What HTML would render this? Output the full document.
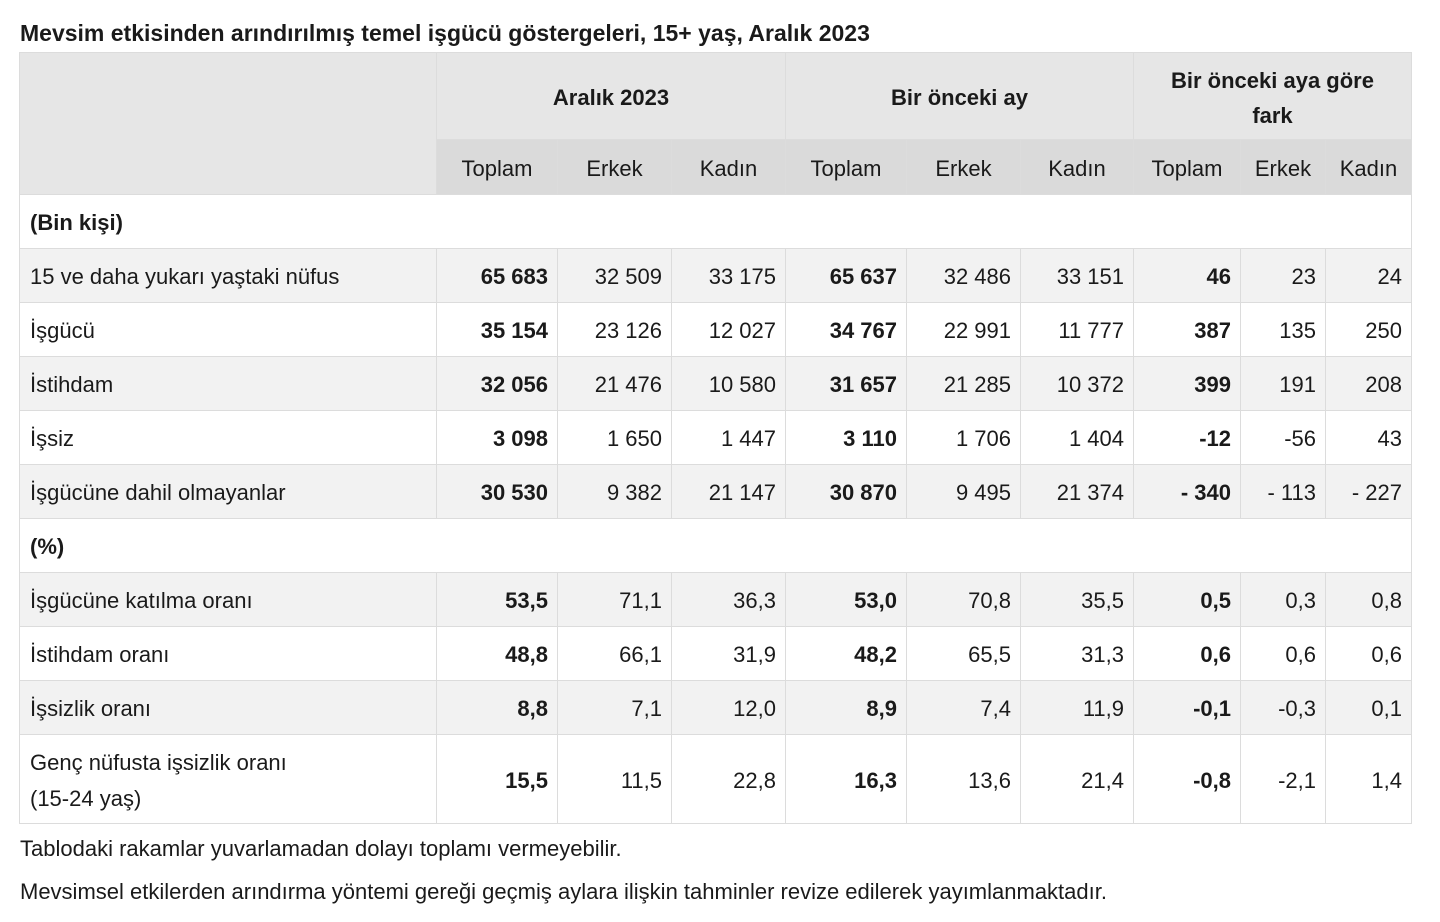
<!DOCTYPE html>
<html><head><meta charset="utf-8"><style>
body{margin:0;width:1440px;height:922px;background:#fff;font-family:"Liberation Sans",sans-serif;color:#1a1a1a;position:relative;overflow:hidden}
h1{position:absolute;left:20px;top:20px;margin:0;font-size:23px;font-weight:bold;white-space:nowrap}
table{position:absolute;left:19px;top:52px;border-collapse:collapse;table-layout:fixed;font-size:22px}
td,th{border:1px solid #dcdcdc;padding:3px 9px 0 9px;box-sizing:border-box;white-space:nowrap}
th{font-weight:normal;background:#e6e6e6}
.g th{font-weight:bold}
.s th{background:#dadada;text-align:center}
td{text-align:right}
td:first-child{text-align:left;padding-left:10px}
tr.z td{background:#f2f2f2}
b{font-weight:bold}
.note{position:absolute;left:20px;font-size:22px;white-space:nowrap}
</style></head><body>
<h1>Mevsim etkisinden arındırılmış temel işgücü göstergeleri, 15+ yaş, Aralık 2023</h1>
<table>
<colgroup><col style="width:417px"><col style="width:121px"><col style="width:114px"><col style="width:114px"><col style="width:121px"><col style="width:114px"><col style="width:113px"><col style="width:107px"><col style="width:85px"><col style="width:86px"></colgroup>
<tr class="g" style="height:87px"><th rowspan="2"></th><th colspan="3">Aralık 2023</th><th colspan="3">Bir önceki ay</th><th colspan="3" style="line-height:35px">Bir önceki aya göre<br>fark</th></tr>
<tr class="s" style="height:55px"><th>Toplam</th><th>Erkek</th><th>Kadın</th><th>Toplam</th><th>Erkek</th><th>Kadın</th><th>Toplam</th><th>Erkek</th><th>Kadın</th></tr>
<tr style="height:54px"><td colspan="10"><b>(Bin kişi)</b></td></tr>
<tr class="z" style="height:54px"><td>15 ve daha yukarı yaştaki nüfus</td><td><b>65 683</b></td><td>32 509</td><td>33 175</td><td><b>65 637</b></td><td>32 486</td><td>33 151</td><td><b>46</b></td><td>23</td><td>24</td></tr>
<tr style="height:54px"><td>İşgücü</td><td><b>35 154</b></td><td>23 126</td><td>12 027</td><td><b>34 767</b></td><td>22 991</td><td>11 777</td><td><b>387</b></td><td>135</td><td>250</td></tr>
<tr class="z" style="height:54px"><td>İstihdam</td><td><b>32 056</b></td><td>21 476</td><td>10 580</td><td><b>31 657</b></td><td>21 285</td><td>10 372</td><td><b>399</b></td><td>191</td><td>208</td></tr>
<tr style="height:54px"><td>İşsiz</td><td><b>3 098</b></td><td>1 650</td><td>1 447</td><td><b>3 110</b></td><td>1 706</td><td>1 404</td><td><b>-12</b></td><td>-56</td><td>43</td></tr>
<tr class="z" style="height:54px"><td>İşgücüne dahil olmayanlar</td><td><b>30 530</b></td><td>9 382</td><td>21 147</td><td><b>30 870</b></td><td>9 495</td><td>21 374</td><td><b>- 340</b></td><td>- 113</td><td>- 227</td></tr>
<tr style="height:54px"><td colspan="10"><b>(%)</b></td></tr>
<tr class="z" style="height:54px"><td>İşgücüne katılma oranı</td><td><b>53,5</b></td><td>71,1</td><td>36,3</td><td><b>53,0</b></td><td>70,8</td><td>35,5</td><td><b>0,5</b></td><td>0,3</td><td>0,8</td></tr>
<tr style="height:54px"><td>İstihdam oranı</td><td><b>48,8</b></td><td>66,1</td><td>31,9</td><td><b>48,2</b></td><td>65,5</td><td>31,3</td><td><b>0,6</b></td><td>0,6</td><td>0,6</td></tr>
<tr class="z" style="height:54px"><td>İşsizlik oranı</td><td><b>8,8</b></td><td>7,1</td><td>12,0</td><td><b>8,9</b></td><td>7,4</td><td>11,9</td><td><b>-0,1</b></td><td>-0,3</td><td>0,1</td></tr>
<tr style="height:89px"><td style="line-height:36px">Genç nüfusta işsizlik oranı<br>(15-24 yaş)</td><td><b>15,5</b></td><td>11,5</td><td>22,8</td><td><b>16,3</b></td><td>13,6</td><td>21,4</td><td><b>-0,8</b></td><td>-2,1</td><td>1,4</td></tr>
</table>
<div class="note" style="top:836px">Tablodaki rakamlar yuvarlamadan dolayı toplamı vermeyebilir.</div>
<div class="note" style="top:879px">Mevsimsel etkilerden arındırma yöntemi gereği geçmiş aylara ilişkin tahminler revize edilerek yayımlanmaktadır.</div>
</body></html>
